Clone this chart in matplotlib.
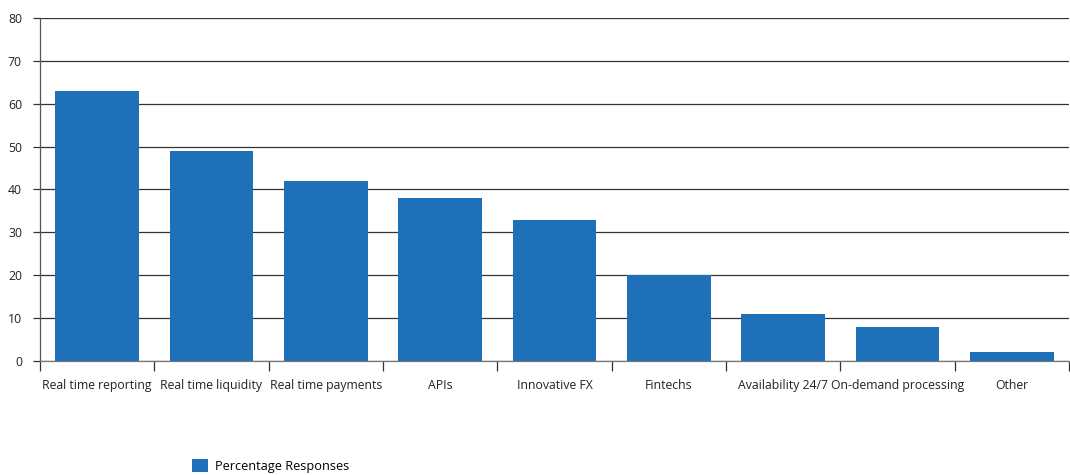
import numpy as np
import matplotlib.pyplot as plt

categories = ["Real time reporting", "Real time liquidity", "Real time payments", "APIs",
              "Innovative FX", "Fintechs", "Availability 24/7", "On-demand processing", "Other"]
responses = [63, 49, 42, 38, 33, 20, 11, 8, 2]
y_ticks = [0, 10, 20, 30, 40, 50, 60, 70, 80]

plt.rcParams['font.family'] = ['Open Sans', 'DejaVu Sans']

fig = plt.figure(figsize=(10.7, 4.75), dpi=100)
ax = fig.add_axes([40 / 1070, 1 - 361 / 475, 1029 / 1070, 343 / 475])

x = np.arange(len(categories))
bars = ax.bar(x, responses, width=0.73, color="#1e70b8", zorder=3, label="Percentage Responses")

ax.set_xlim(-0.5, len(categories) - 0.5)
ax.set_ylim(0, 80)
ax.set_yticks(y_ticks)
ax.set_yticklabels([str(v) for v in y_ticks], fontsize=8.8, color="#222222")
ax.yaxis.grid(True, color="#333333", linewidth=0.9, zorder=0)

ax.set_xticks(x)
ax.set_xticklabels(categories, fontsize=8.8, color="#222222")
ax.tick_params(axis='x', which='major', length=0, pad=13)
ax.set_xticks(np.arange(-0.5, len(categories)), minor=True)
ax.tick_params(axis='x', which='minor', length=7.5, width=0.9, color="#333333", direction='out')
ax.tick_params(axis='y', length=5, width=0.9, color="#333333", pad=8)

for side in ["top", "right"]:
    ax.spines[side].set_visible(False)
ax.spines["left"].set_color("#555555")
ax.spines["bottom"].set_color("#777777")
ax.spines["left"].set_linewidth(0.9)
ax.spines["bottom"].set_linewidth(0.9)

fig.legend(handles=[bars], labels=["Percentage Responses"], loc="center left",
           bbox_to_anchor=(186 / 1070, 1 - 466 / 475), frameon=False, fontsize=9.2,
           handlelength=1.25, handleheight=1.2, handletextpad=0.55, borderpad=0)

fig.savefig("out.png", dpi=100)
